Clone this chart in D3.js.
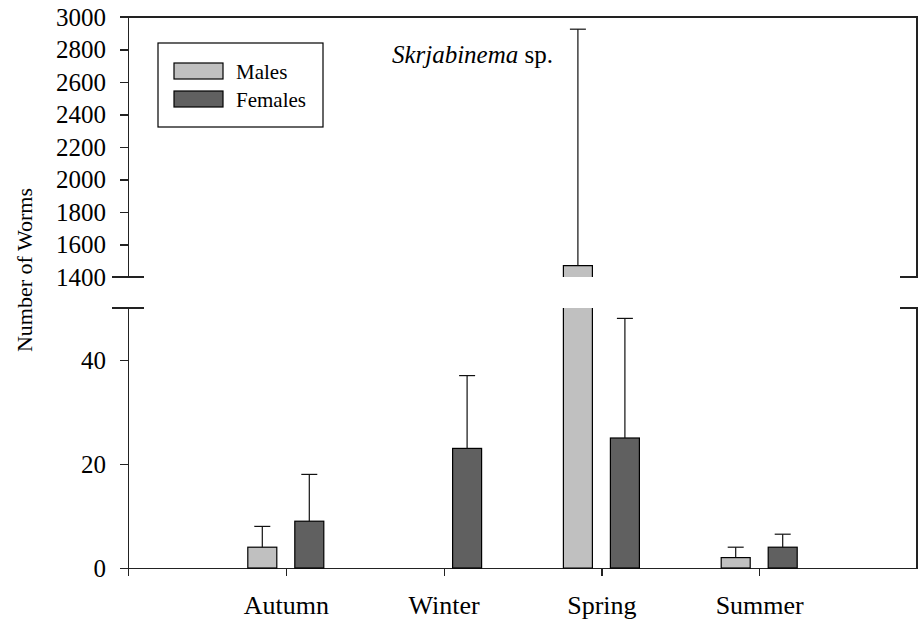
<!DOCTYPE html>
<html>
<head>
<meta charset="utf-8">
<script src="https://cdn.jsdelivr.net/npm/d3@7"></script>
<style>
  body { margin: 0; background: #fff; }
  svg { display: block; font-family: "Liberation Serif", "Times New Roman", serif; }
  .axis path, .axis line { stroke: #222; stroke-width: 1.2; shape-rendering: crispEdges; }
  .axis text { fill: #000; font-family: "Liberation Serif", "Times New Roman", serif; }
</style>
</head>
<body>
<svg width="918" height="621"></svg>
<script>
const seasons = ["Autumn", "Winter", "Spring", "Summer"];
const sexes = ["Males", "Females"];
const males = [4, 0, 1470, 2];
const malesErr = [4, 0, 1455, 2];
const females = [9, 23, 25, 4];
const femalesErr = [9, 14, 23, 2.5];
const lowTicks = [0, 20, 40];
const highTicks = [1400, 1600, 1800, 2000, 2200, 2400, 2600, 2800, 3000];

const colors = {Males: "#c0c0c0", Females: "#606060"};

const svg = d3.select("svg");
const left = 128, right = 917;

const x = d3.scaleLinear().domain([0, 5]).range([left, right]);
const sub = d3.scaleBand().domain(sexes).range([-38, 38]).paddingInner(18 / 47);
const yLow = d3.scaleLinear().domain([0, 50]).range([568, 308]);
const yHigh = d3.scaleLinear().domain([1400, 3000]).range([277, 17]);

const bars = [];
seasons.forEach((s, i) => {
  bars.push({season: s, i: i + 1, sex: "Males", v: males[i], e: malesErr[i]});
  bars.push({season: s, i: i + 1, sex: "Females", v: females[i], e: femalesErr[i]});
});

// frame / axes
svg.append("g").attr("class", "axis")
  .attr("transform", `translate(${left},0)`)
  .call(d3.axisLeft(yHigh).tickValues(highTicks).tickFormat(d3.format("d"))
    .tickSize(8).tickSizeOuter(0).tickPadding(14))
  .call(g => g.attr("font-family", null).selectAll("text").attr("font-size", 25));

svg.append("g").attr("class", "axis")
  .attr("transform", `translate(${left},0)`)
  .call(d3.axisLeft(yLow).tickValues(lowTicks).tickSize(8).tickSizeOuter(0).tickPadding(14))
  .call(g => g.attr("font-family", null).selectAll("text").attr("font-size", 25));

svg.append("g").attr("class", "axis")
  .attr("transform", `translate(0,${yLow(0)})`)
  .call(d3.axisBottom(x).tickValues([0, 1, 2, 3, 4]).tickSize(8).tickSizeOuter(0)
    .tickFormat(d => d >= 1 ? seasons[d - 1] : "").tickPadding(20))
  .call(g => g.attr("font-family", null).selectAll("text").attr("font-size", 26));

const frame = svg.append("g").attr("stroke", "#222").attr("stroke-width", 1.2)
  .attr("fill", "none").attr("shape-rendering", "crispEdges");
frame.append("path").attr("d", `M${left - 8},${yHigh(3000)}H${right}V${yHigh(1400)}`);
frame.append("path").attr("d", `M${right},${yLow(50)}V${yLow(0)}`);
[yHigh(1400), yLow(50)].forEach(yy => {
  frame.append("line").attr("x1", left - 16).attr("x2", left + 16).attr("y1", yy).attr("y2", yy);
  frame.append("line").attr("x1", right - 17).attr("x2", right + 17).attr("y1", yy).attr("y2", yy);
});

// bars
const bg = svg.append("g");
bars.filter(d => d.v > 0).forEach(d => {
  const x0 = x(d.i) + sub(d.sex), x1 = x0 + sub.bandwidth();
  if (d.v <= 50) {
    bg.append("rect").attr("x", x0).attr("y", yLow(d.v)).attr("width", x1 - x0)
      .attr("height", yLow(0) - yLow(d.v)).attr("fill", colors[d.sex])
      .attr("stroke", "#000").attr("stroke-width", 1.2);
  } else {
    bg.append("rect").attr("x", x0).attr("y", yLow(50)).attr("width", x1 - x0)
      .attr("height", yLow(0) - yLow(50)).attr("fill", colors[d.sex]);
    bg.append("path").attr("d", `M${x0},${yLow(50)}V${yLow(0)}H${x1}V${yLow(50)}`)
      .attr("fill", "none").attr("stroke", "#000").attr("stroke-width", 1.2);
    bg.append("rect").attr("x", x0).attr("y", yHigh(d.v)).attr("width", x1 - x0)
      .attr("height", yHigh(1400) - yHigh(d.v)).attr("fill", colors[d.sex]);
    bg.append("path").attr("d", `M${x0},${yHigh(1400)}V${yHigh(d.v)}H${x1}V${yHigh(1400)}`)
      .attr("fill", "none").attr("stroke", "#000").attr("stroke-width", 1.2);
  }
  // error bar (upper only)
  const top = d.v + d.e;
  const yScale = d.v > 50 ? yHigh : yLow;
  const cx = (x0 + x1) / 2;
  bg.append("line").attr("x1", cx).attr("x2", cx).attr("y1", yScale(d.v)).attr("y2", yScale(top))
    .attr("stroke", "#111").attr("stroke-width", 1.2);
  bg.append("line").attr("x1", cx - 8).attr("x2", cx + 8).attr("y1", yScale(top)).attr("y2", yScale(top))
    .attr("stroke", "#111").attr("stroke-width", 1.2);
});

// y title
svg.append("text").attr("transform", "translate(32,270) rotate(-90)")
  .attr("text-anchor", "middle").attr("font-size", 22).text("Number of Worms");

// species label
const sp = svg.append("text").attr("x", 553).attr("y", 63).attr("text-anchor", "end").attr("font-size", 25);
sp.append("tspan").attr("font-style", "italic").text("Skrjabinema");
sp.append("tspan").text(" sp.");

// legend
const lg = svg.append("g");
lg.append("rect").attr("x", 158).attr("y", 43).attr("width", 165).attr("height", 84)
  .attr("fill", "#fff").attr("stroke", "#000").attr("stroke-width", 1.2);
sexes.forEach((s, i) => {
  lg.append("rect").attr("x", 174).attr("y", 63 + i * 28).attr("width", 49).attr("height", 16)
    .attr("fill", colors[s]).attr("stroke", "#000").attr("stroke-width", 1.2);
  lg.append("text").attr("x", 236).attr("y", 79 + i * 28).attr("font-size", 21).text(s);
});
</script>
</body>
</html>
